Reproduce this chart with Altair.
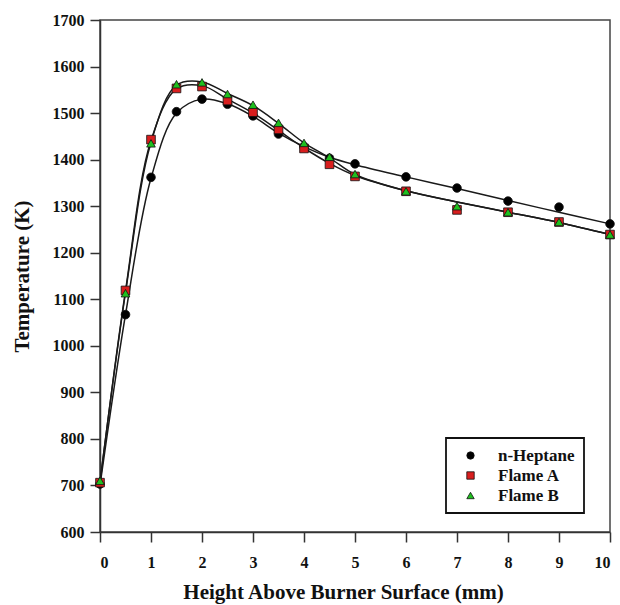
import altair as alt
import pandas as pd

# Height above burner surface (mm)
xs = [0, 0.5, 1, 1.5, 2, 2.5, 3, 3.5, 4, 4.5, 5, 6, 7, 8, 9, 10]

# Measured temperatures (K)
heptane = [703, 1067, 1362, 1503, 1530, 1519, 1494, 1455, 1428, 1403, 1391, 1363, 1339, 1311, 1298, 1262]
flame_a = [706, 1119, 1443, 1553, 1557, 1527, 1502, 1465, 1424, 1390, 1364, 1332, 1292, 1287, 1266, 1239]
flame_b = [710, 1113, 1435, 1562, 1566, 1541, 1518, 1479, 1436, 1406, 1369, 1332, 1300, 1287, 1266, 1239]

# Smooth fitted curves
heptane_fit = [700, 1067, 1360, 1500, 1530, 1520, 1493, 1457, 1428, 1405, 1389, 1363, 1338, 1312, 1287, 1262]
flame_a_fit = [705, 1118, 1441, 1552, 1559, 1530, 1500, 1463, 1425, 1392, 1366, 1333, 1309, 1287, 1265, 1239]
flame_b_fit = [708, 1114, 1437, 1560, 1567, 1542, 1516, 1478, 1436, 1404, 1368, 1333, 1309, 1287, 1265, 1239]

series_names = ["n-Heptane", "Flame A", "Flame B"]
shapes = ["circle", "square", "triangle-up"]
fills = ["#000000", "#d81e1e", "#1fbf1f"]

rows = []
for name, vals in zip(series_names, [heptane, flame_a, flame_b]):
    for x, v in zip(xs, vals):
        rows.append({"series": name, "x": x, "T": v})
pts = pd.DataFrame(rows)

frows = []
for name, vals in zip(series_names, [heptane_fit, flame_a_fit, flame_b_fit]):
    for x, v in zip(xs, vals):
        frows.append({"series": name, "x": x, "T": v})
fits = pd.DataFrame(frows)

font = "Liberation Serif"
x_vals = [i * 0.5 for i in range(21)]
y_vals = list(range(600, 1701, 50))

x_enc = alt.X(
    "x:Q",
    scale=alt.Scale(domain=[0, 10], nice=False, zero=False),
    axis=alt.Axis(
        values=x_vals,
        labelExpr="datum.value % 1 == 0 ? datum.label : ''",
        tickSize={"condition": {"test": "datum.value % 1 == 0", "value": 10}, "value": 5},
        title="Height Above Burner Surface (mm)",
        titleX=243,
        titleY=66,
        titleAlign="center",
        titleBaseline="alphabetic",
        labelPadding=12,
        labelOverlap=False,
        grid=False,
    ),
)
y_enc = alt.Y(
    "T:Q",
    scale=alt.Scale(domain=[600, 1700], nice=False, zero=False),
    axis=alt.Axis(
        values=y_vals,
        format="d",
        labelExpr="datum.value % 100 == 0 ? datum.label : ''",
        tickSize={"condition": {"test": "datum.value % 100 == 0", "value": 10}, "value": 5},
        title="Temperature (K)",
        titleX=-78,
        titleY=256,
        titleAngle=-90,
        titleAlign="center",
        titleBaseline="middle",
        labelPadding=6,
        labelOverlap=False,
        grid=False,
    ),
)

lines = alt.Chart(fits).mark_line(
    color="#1a1a1a", strokeWidth=1.5, interpolate="catmull-rom"
).encode(
    x=x_enc,
    y=y_enc,
    detail="series:N",
)

points = alt.Chart(pts).mark_point(
    filled=True, stroke="#111111", strokeWidth=0.8, opacity=1, size=75
).encode(
    x="x:Q",
    y="T:Q",
    shape=alt.Shape(
        "series:N",
        scale=alt.Scale(domain=series_names, range=shapes),
        legend=alt.Legend(title=None),
    ),
    color=alt.Color(
        "series:N",
        scale=alt.Scale(domain=series_names, range=fills),
        legend=alt.Legend(title=None),
    ),
    order=alt.Order("ord:Q"),
).transform_calculate(
    ord="datum.series == 'n-Heptane' ? 0 : (datum.series == 'Flame A' ? 1 : 2)"
)

chart = alt.layer(lines, points).properties(
    width=510,
    height=512,
    autosize=alt.AutoSizeParams(type="none"),
    padding={"left": 100, "top": 20, "right": 10, "bottom": 73},
).configure_view(
    stroke="#444444", strokeWidth=1.5
).configure_axis(
    domainColor="#333333",
    domainWidth=1.5,
    tickColor="#333333",
    tickWidth=1.5,
    labelFont=font,
    labelFontSize=16,
    labelFontWeight="bold",
    labelColor="#111111",
    titleFont=font,
    titleFontSize=21,
    titleFontWeight="bold",
    titleColor="#111111",
).configure_legend(
    orient="none",
    legendX=346,
    legendY=418,
    padding=9,
    strokeColor="#111111",
    strokeWidth=1.8,
    fillColor="white",
    symbolOffset=7,
    symbolSize=55,
    symbolStrokeColor="#111111",
    symbolStrokeWidth=0.8,
    labelFont=font,
    labelFontSize=17,
    labelFontWeight="bold",
    labelColor="#111111",
    labelOffset=19,
    rowPadding=2,
)

chart.save("out.html", embed_options={"renderer": "svg", "actions": False})
